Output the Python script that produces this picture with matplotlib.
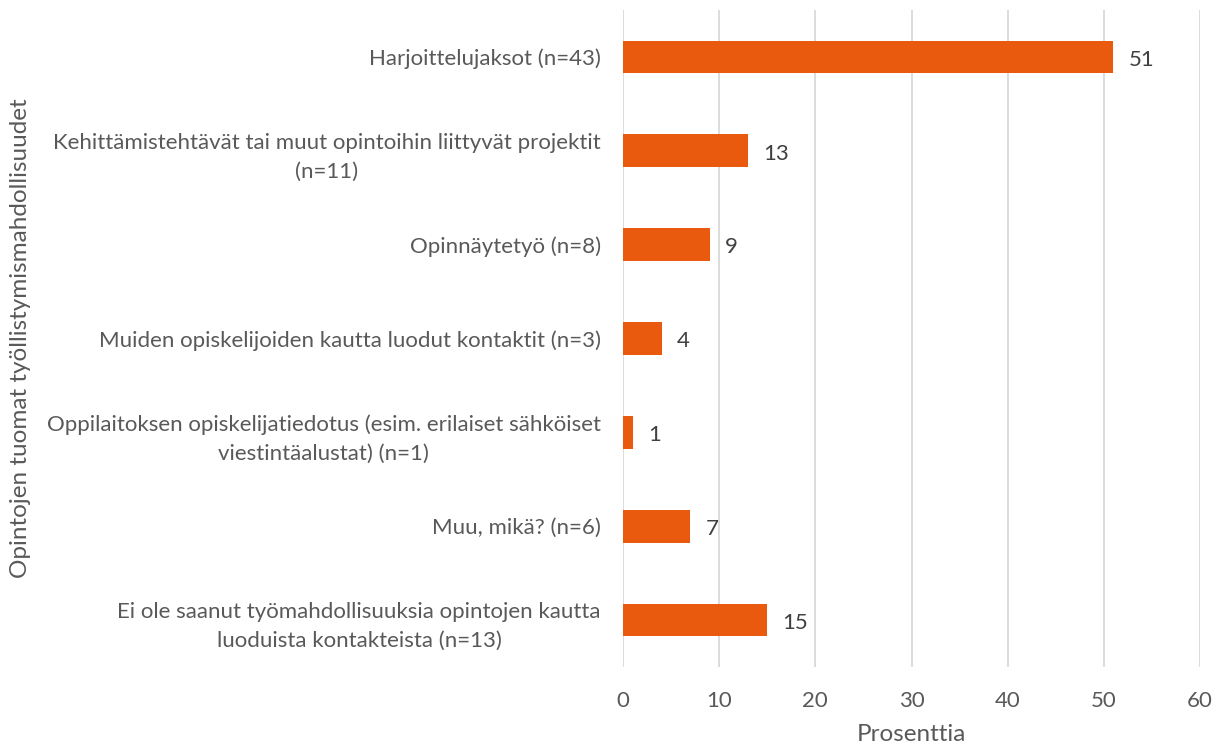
import matplotlib
matplotlib.use('Agg')
import matplotlib.pyplot as plt

categories = [
    'Harjoittelujaksot (n=43)',
    'Kehittämistehtävät tai muut opintoihin liittyvät projektit\n(n=11)',
    'Opinnäytetyö (n=8)',
    'Muiden opiskelijoiden kautta luodut kontaktit (n=3)',
    'Oppilaitoksen opiskelijatiedotus (esim. erilaiset sähköiset\nviestintäalustat) (n=1)',
    'Muu, mikä? (n=6)',
    'Ei ole saanut työmahdollisuuksia opintojen kautta\nluoduista kontakteista (n=13)',
]
values = [51, 13, 9, 4, 1, 7, 15]
xticks = [0, 10, 20, 30, 40, 50, 60]

plt.rcParams['font.family'] = ['Lato', 'DejaVu Sans']

fig = plt.figure(figsize=(12.2, 7.46), dpi=100)
ax = fig.add_axes([0.5107, 0.1059, 0.4729, 0.8807])

pos = list(range(len(categories)))
bars = ax.barh(pos, values, height=0.35, color='#EA5A0E', zorder=3)
ax.set_ylim(len(categories) - 0.5, -0.5)
ax.set_xlim(0, 60)
ax.set_xticks(xticks)
ax.set_yticks(pos)
ax.set_yticklabels(categories, fontsize=16, color='#595959', linespacing=1.55,
                   multialignment='center')

# value labels next to bar ends
for b, v in zip(bars, values):
    ax.annotate(str(v), (b.get_width(), b.get_y() + b.get_height() / 2),
                xytext=(11, -2), textcoords='offset points',
                va='center', ha='left', fontsize=16, color='#404040')

ax.grid(axis='x', color='#D9D9D9', linewidth=1.3, zorder=0)
for s in ax.spines.values():
    s.set_visible(False)
ax.tick_params(axis='y', length=0, pad=16)
ax.tick_params(axis='x', length=0, pad=17, labelsize=16, labelcolor='#595959')

ax.set_xlabel('Prosenttia', fontsize=17.5, color='#595959', labelpad=10)
fig.text(0.017, 0.5467, 'Opintojen tuomat työllistymismahdollisuudet', rotation=90,
         ha='center', va='center', fontsize=17.5, color='#595959')

fig.savefig('out.png', dpi=100)
